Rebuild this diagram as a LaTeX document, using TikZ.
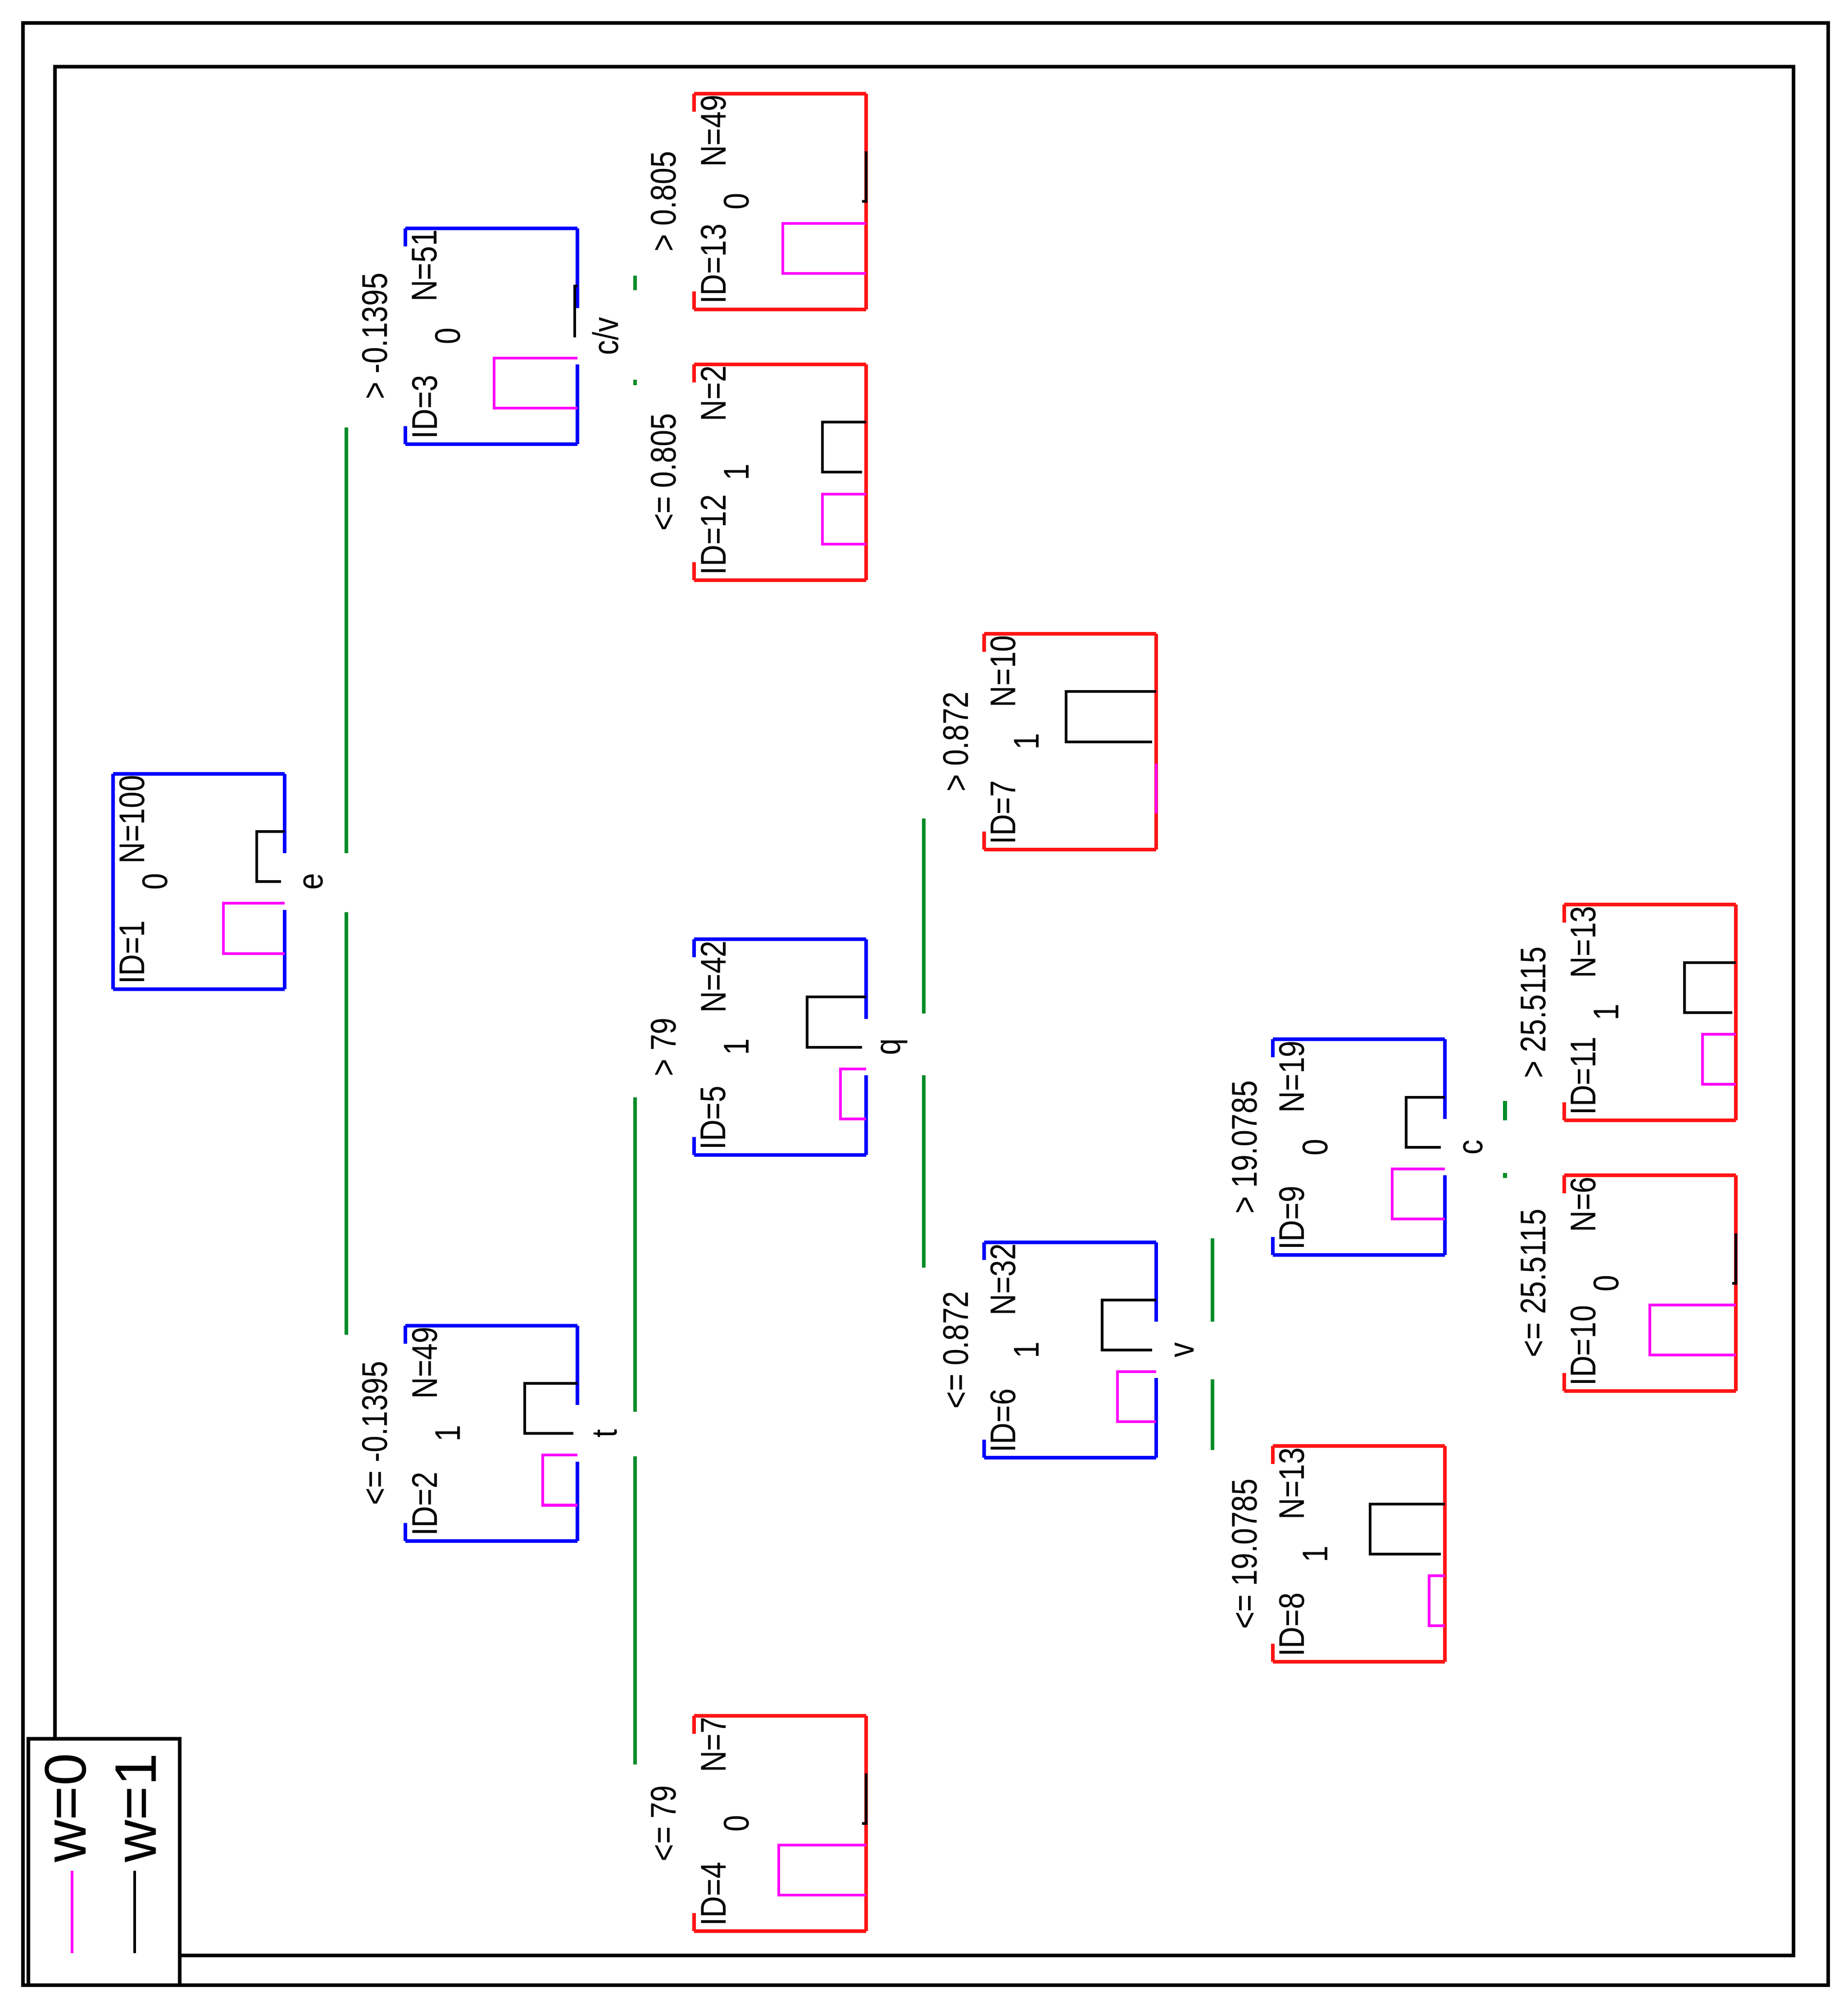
\documentclass[tikz,border=0pt]{standalone}
\usepackage{fontspec}
\setmainfont{Liberation Sans}
\definecolor{tb}{RGB}{0,0,255}
\definecolor{tr}{RGB}{255,20,20}
\definecolor{tm}{RGB}{255,0,255}
\definecolor{tg}{RGB}{0,140,40}
\newcommand\vst[1]{\scalebox{1}[1.2]{#1}}
\tikzset{
  txt/.style={rotate=90,inner sep=0pt,font=\fontsize{66}{70}\selectfont},
  bx/.style={line width=8pt},
  bar/.style={line width=6pt},
  gl/.style={tg,line width=8pt},
  frame/.style={line width=8pt,black}
}
\newcommand\tnode[9]{%
 \begin{scope}[shift={#2}]
  \coordinate (#1) at (67,84);
  \draw[bx,draw=#3] (0,0)--(134,0) (0,168)--(134,168) (0,0)--(0,14) (0,154)--(0,168);
  \if\relax\detokenize{#9}\relax
    \draw[bx,draw=#3] (134,0)--(134,168);
  \else
    \draw[bx,draw=#3] (134,0)--(134,62) (134,106)--(134,168);
    \node[txt] (#1s) at (156,84) {\vst{#9}};
  \fi
  \draw[bar,black] (134,45)--++(-#7,0)--++(0,39)--(131,84);
  \draw[bar,tm] (134,101)--++(-#8,0)--++(0,39)--(134,140);
  \node[txt,anchor=west] (#1i) at (15,164) {\vst{ID=#4}};
  \node[txt,anchor=east] (#1n) at (15,1) {\vst{N=#6}};
  \node[txt] (#1c) at (33,84) {\vst{#5}};
 \end{scope}}
\begin{document}
\begin{tikzpicture}[x=1mm,y=-1mm]
\useasboundingbox (0,0) rectangle (1440,1562.5);
\draw[frame] (18,18) rectangle (1425,1547);
\draw[frame] (43,52) rectangle (1398,1524);

\tnode{n1}{(88,603)}{tb}{1}{0}{100}{22}{48}{e}
\draw[bx,tb] (88,617)--(88,757);
\tnode{n3}{(316,178)}{tb}{3}{0}{51}{2}{65}{c/v}
\tnode{n2}{(316,1033)}{tb}{2}{1}{49}{41}{27}{t}
\tnode{n13}{(541,73)}{tr}{13}{0}{49}{0}{65}{}
\tnode{n12}{(541,284)}{tr}{12}{1}{2}{34}{34}{}
\tnode{n5}{(541,732)}{tb}{5}{1}{42}{46}{20}{q}
\tnode{n4}{(541,1337)}{tr}{4}{0}{7}{0}{68}{}
\tnode{n7}{(767,494)}{tr}{7}{1}{10}{70}{0}{}
\tnode{n6}{(767,968)}{tb}{6}{1}{32}{42}{30}{v}
\tnode{n9}{(992,810)}{tb}{9}{0}{19}{30}{41}{c}
\tnode{n8}{(992,1127)}{tr}{8}{1}{13}{58}{12}{}
\tnode{n11}{(1219,705)}{tr}{11}{1}{13}{40}{26}{}
\tnode{n10}{(1219,916)}{tr}{10}{0}{6}{0}{67}{}

% edge labels
\node[txt] (l3) at (292,262) {\vst{> -0.1395}};
\node[txt] (l2) at (292,1117) {\vst{<= -0.1395}};
\node[txt] (l13) at (517,157) {\vst{> 0.805}};
\node[txt] (l12) at (517,368) {\vst{<= 0.805}};
\node[txt] (l5) at (517,816) {\vst{> 79}};
\node[txt] (l4) at (517,1421) {\vst{<= 79}};
\node[txt] (l7) at (745,578) {\vst{> 0.872}};
\node[txt] (l6) at (745,1052) {\vst{<= 0.872}};
\node[txt] (l9) at (970,894) {\vst{> 19.0785}};
\node[txt] (l8) at (970,1211) {\vst{<= 19.0785}};
\node[txt] (l11) at (1195,789) {\vst{> 25.5115}};
\node[txt] (l10) at (1195,1000) {\vst{<= 25.5115}};

% connectors
\coordinate (ea) at (270,333); \coordinate (eb) at (270,665);
\coordinate (ec) at (270,711); \coordinate (ed) at (270,1040);
\draw[gl] (ea)--(eb) (ec)--(ed);
\coordinate (ca) at (495,215); \coordinate (cb) at (495,226);
\coordinate (cc) at (495,296); \coordinate (cd) at (495,300);
\draw[gl] (ca)--(cb) (cc)--(cd);
\coordinate (ta) at (495,855); \coordinate (tb') at (495,1100);
\coordinate (tc) at (495,1135); \coordinate (td) at (495,1375);
\draw[gl] (ta)--(tb') (tc)--(td);
\coordinate (qa) at (720,638); \coordinate (qb) at (720,790);
\coordinate (qc) at (720,838); \coordinate (qd) at (720,988);
\draw[gl] (qa)--(qb) (qc)--(qd);
\coordinate (va) at (945,965); \coordinate (vb) at (945,1030);
\coordinate (vc) at (945,1075); \coordinate (vd) at (945,1130);
\draw[gl] (va)--(vb) (vc)--(vd);
\coordinate (ka) at (1173,858); \coordinate (kb) at (1173,873);
\coordinate (kc) at (1173,914); \coordinate (kd) at (1173,918);
\draw[gl] (ka)--(kb) (kc)--(kd);

% legend
\draw[frame,fill=white] (22,1355) rectangle (140,1547);
\node[rotate=90,inner sep=0pt,font=\fontsize{130}{130}\selectfont] (w0) at (51,1409) {w=0};
\node[rotate=90,inner sep=0pt,font=\fontsize{130}{130}\selectfont] (w1) at (106,1409) {w=1};
\coordinate (m1) at (56,1458); \coordinate (m2) at (56,1522);
\coordinate (k1) at (105,1458); \coordinate (k2) at (105,1522);
\draw[tm,line width=6pt] (m1)--(m2);
\draw[black,line width=6pt] (k1)--(k2);
\end{tikzpicture}
\end{document}
